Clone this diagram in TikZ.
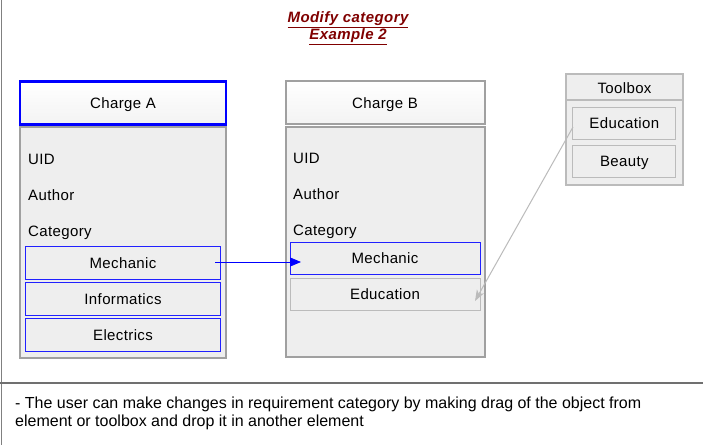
\documentclass[tikz,border=0pt]{standalone}
\usepackage{fontspec}
\setmainfont{Liberation Sans}
\usetikzlibrary{arrows.meta,shadings}
\definecolor{bodyfill}{HTML}{EEEEEE}
\definecolor{bodyline}{HTML}{A0A0A0}
\definecolor{itemblue}{HTML}{2020FF}
\definecolor{lightline}{HTML}{BBBBBB}
\definecolor{titlered}{HTML}{800000}
\definecolor{frameline}{HTML}{707070}
\newcommand{\lblfont}{\fontsize{15}{18}\selectfont\addfontfeature{LetterSpace=2.5}}
\tikzset{
  lbl/.style={inner sep=0pt, text height=11pt, text depth=0pt, font=\lblfont},
  hdr/.style={lbl, draw=bodyline, line width=2pt, top color=white, bottom color=bodyfill!70, minimum width=#1, minimum height=43},
  body/.style={draw=bodyline, line width=2pt, fill=bodyfill, inner sep=0pt},
  item/.style={lbl, draw=itemblue, line width=1pt, fill=bodyfill, minimum width=#1, minimum height=33},
  gitem/.style={lbl, draw=lightline, line width=1pt, fill=bodyfill, minimum width=#1, minimum height=32},
  attr/.style={anchor=base west, inner sep=0pt, font=\lblfont},
  frame/.style={draw=frameline, line width=1.5pt},
}
\begin{document}
\begin{tikzpicture}[x=1pt,y=-1pt]
\useasboundingbox[fill=white] (0,0) rectangle (703,445);
% frame lines
\draw[draw=gray, line width=1pt] (1,0) -- (1,445);
\draw[frame] (0,383) -- (703,383);
% title
\node[font=\fontsize{15}{17}\selectfont\bfseries\itshape\addfontfeature{LetterSpace=3}, text=titlered, align=center, inner sep=0pt] (title) at (348,28) {\underline{Modify\ category}\\\underline{Example\ 2}};
% Charge A
\node[body, minimum width=206, minimum height=231] (bodyA) at (123,242.5) {};
\node[hdr=206, draw=blue, line width=2.5pt] (hA) at (123,103) {Charge A};
\node[attr] (uidA) at (28,164.5) {UID};
\node[attr] (authA) at (28,200.5) {Author};
\node[attr] (catA) at (28,236.5) {Category};
\node[item=195] (mechA) at (123,262.5) {Mechanic};
\node[item=195] (infA) at (123,298.5) {Informatics};
\node[item=195] (elecA) at (123,334.7) {Electrics};
% Charge B
\node[body, minimum width=199, minimum height=230] (bodyB) at (385,242) {};
\node[hdr=199] (hB) at (385,102.5) {Charge B};
\node[attr] (uidB) at (293,163.5) {UID};
\node[attr] (authB) at (293,199.5) {Author};
\node[attr] (catB) at (293,235.5) {Category};
\node[item=190, minimum height=32] (mechB) at (385,258.3) {Mechanic};
\node[gitem=190] (eduB) at (385,294) {Education};
% Toolbox
\node[draw=lightline, line width=2pt, fill=bodyfill, minimum width=117, minimum height=111, inner sep=0pt] (tool) at (624.5,129.5) {};
\node[lbl] (toolT) at (624.5,87.5) {Toolbox};
\draw[draw=lightline, line width=2pt] (tool.west |- 0,100) -- (tool.east |- 0,100);
\node[gitem=103] (eduT) at (624.3,123.2) {Education};
\node[gitem=103] (beaT) at (624.3,161.2) {Beauty};
% arrows
\coordinate (s1) at (215,262);
\coordinate (t1) at (301,262);
\draw[blue, line width=0.8pt, -{Triangle[length=11pt,width=9pt]}] (s1) -- (t1);
\coordinate (s2) at (573,127);
\coordinate (t2) at (475,301);
\draw[draw=lightline, line width=1pt, -{Stealth[length=11pt,width=8pt,inset=3pt]}] (s2) -- (t2);
% note
\node[anchor=base west, align=left, inner sep=0pt, font=\fontsize{16}{18}\selectfont] (note) at (15,426) {- The user can make changes in requirement category by making drag of the object from\\element or toolbox and drop it in another element};
\end{tikzpicture}
\end{document}
